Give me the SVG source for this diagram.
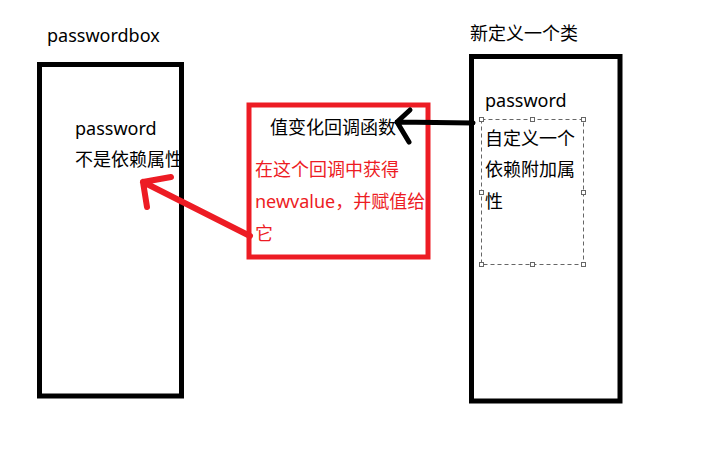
<svg xmlns="http://www.w3.org/2000/svg" width="717" height="452" viewBox="0 0 717 452">
<style>
  text { font-family: "Noto Sans", "Noto Sans CJK SC", sans-serif; font-size: 18px; fill: #000; }
  .red { fill: #ed1c24; }
  .box { fill: none; stroke: #000; stroke-width: 5; }
  .rbox { fill: none; stroke: #ed1c24; stroke-width: 5; }
  .sel { fill: none; stroke: #666; stroke-width: 1; stroke-dasharray: 4 3; }
  .h { fill: #fff; stroke: #666; stroke-width: 1; }
  .blk { fill: none; stroke: #000; stroke-width: 5; stroke-linecap: round; stroke-linejoin: round; }
  .rln { fill: none; stroke: #ed1c24; stroke-width: 6; stroke-linecap: round; stroke-linejoin: round; }
</style>
<rect width="717" height="452" fill="#fff"/>
<g id="passwordbox">
  <text x="47" y="42">passwordbox</text>
  <rect class="box" x="39.5" y="64.5" width="142" height="331.5"/>
  <text x="75" y="135">password</text>
  <text x="75" y="166">不是依赖属性</text>
</g>
<g id="callback">
  <rect class="rbox" x="249" y="105" width="179" height="152"/>
  <text x="270" y="134">值变化回调函数</text>
  <text class="red" x="255" y="176">在这个回调中获得</text>
  <text class="red" x="255" y="208">newvalue，并赋值给</text>
  <text class="red" x="255" y="240">它</text>
</g>
<g id="newclass">
  <text x="470" y="40">新定义一个类</text>
  <rect class="box" x="471.5" y="56.5" width="148.5" height="344.5"/>
  <text x="485" y="107">password</text>
  <rect class="sel" x="481.5" y="119.5" width="102" height="145"/>
  <rect class="h" x="479.5" y="117.5" width="4" height="4"/>
  <rect class="h" x="530.5" y="117.5" width="4" height="4"/>
  <rect class="h" x="581.5" y="117.5" width="4" height="4"/>
  <rect class="h" x="479.5" y="190.5" width="4" height="4"/>
  <rect class="h" x="581.5" y="190.5" width="4" height="4"/>
  <rect class="h" x="479.5" y="262.5" width="4" height="4"/>
  <rect class="h" x="530.5" y="262.5" width="4" height="4"/>
  <rect class="h" x="581.5" y="262.5" width="4" height="4"/>
  <text x="485" y="145">自定义一个</text>
  <text x="485" y="176">依赖附加属</text>
  <text x="485" y="208">性</text>
</g>
<g id="connectors">
  <path class="blk" d="M473 123 L397 122 M410 110 L397 122 L409 142"/>
  <path class="rln" d="M250 236 L143 182 M171 177 L143 182 L147 207"/>
</g>
</svg>
